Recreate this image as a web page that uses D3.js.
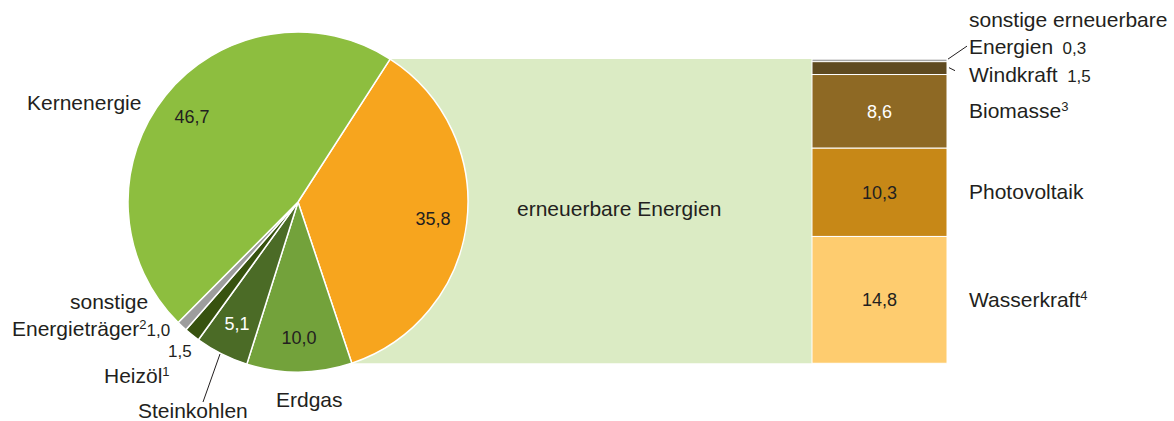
<!DOCTYPE html>
<html>
<head>
<meta charset="utf-8">
<script src="https://cdn.jsdelivr.net/npm/d3@7"></script>
<style>
  body { margin: 0; background: #fff; }
  text { font-family: "Liberation Sans", Arial, sans-serif; fill: #231f20; }
</style>
</head>
<body>
<div id="chart"></div>
<script>
// Anteile am Energiemix (in %)
const pieLabels = ["erneuerbare Energien", "Erdgas", "Steinkohlen", "Heizöl", "sonstige Energieträger", "Kernenergie"]
const pieValues = [35.8, 10.0, 5.1, 1.5, 1.0, 46.7]
const pieColors = ["#f7a51e", "#73a23b", "#4b6b26", "#37520f", "#9d9d9d", "#8dbe3f"]
const pieValueText = ["35,8", "10,0", "5,1", "", "", "46,7"]

const renewLabels = ["sonstige erneuerbare Energien", "Windkraft", "Biomasse", "Photovoltaik", "Wasserkraft"]
const renewValues = [0.3, 1.5, 8.6, 10.3, 14.8]
const renewColors = ["#a5a5a5", "#5f4a20", "#8e6924", "#c78817", "#fecc6f"]
const renewValueText = ["0,3", "1,5", "8,6", "10,3", "14,8"]

const width = 1174, height = 421
const cx = 298, cy = 202, R = 170
const startAngle = 32.8 * Math.PI / 180

const svg = d3.create("svg")
    .attr("width", width)
    .attr("height", height)
    .attr("viewBox", [0, 0, width, height])

const pie = d3.pie().sort(null).startAngle(startAngle).endAngle(startAngle + 2 * Math.PI)
const arcs = pie(pieValues)
const arc = d3.arc().innerRadius(0).outerRadius(R)
const labelArc = d3.arc().innerRadius(136).outerRadius(136)

const pt = (a, r) => [cx + r * Math.sin(a), cy - r * Math.cos(a)]

// renewables slice, expanded to the bar
const ren = arcs[0]
const p0 = pt(ren.startAngle, R), p1 = pt(ren.endAngle, R)
const barX0 = 812, barX1 = 947

svg.append("polygon")
    .attr("points", [p0, [barX0, p0[1]], [barX0, p1[1]], p1].map(p => p.join(",")).join(" "))
    .attr("fill", "#dbebc4")

const g = svg.append("g").attr("transform", `translate(${cx},${cy})`)
g.selectAll("path")
  .data(arcs)
  .join("path")
    .attr("d", arc)
    .attr("fill", (d, i) => pieColors[i])
    .attr("stroke", "white")
    .attr("stroke-width", 1.5)
    .attr("stroke-linejoin", "round")

g.selectAll("text.val")
  .data(arcs)
  .join("text")
    .attr("class", "val")
    .attr("transform", d => `translate(${labelArc.centroid(d)})`)
    .attr("text-anchor", "middle")
    .attr("dy", "0.36em")
    .attr("font-size", 18)
    .style("fill", (d, i) => i === 2 ? "#fff" : "#231f20")
    .text((d, i) => pieValueText[i])

svg.append("text")
    .attr("x", 517).attr("y", 216)
    .attr("font-size", 21)
    .text(pieLabels[0])

// stacked bar of renewables
const y = d3.scaleLinear()
    .domain([0, d3.sum(renewValues)])
    .range([p0[1], p1[1]])
const stack = d3.cumsum(renewValues)
const segs = renewValues.map((v, i) => ({ y0: stack[i] - v, y1: stack[i], i }))

svg.append("g")
  .selectAll("rect")
  .data(segs)
  .join("rect")
    .attr("x", barX0)
    .attr("width", barX1 - barX0)
    .attr("y", d => y(d.y0))
    .attr("height", d => y(d.y1) - y(d.y0))
    .attr("fill", d => renewColors[d.i])
    .attr("stroke", "white")
    .attr("stroke-width", 1)

svg.append("g")
  .selectAll("text")
  .data(segs.slice(2))
  .join("text")
    .attr("x", (barX0 + barX1) / 2)
    .attr("y", d => y((d.y0 + d.y1) / 2))
    .attr("dy", "0.36em")
    .attr("text-anchor", "middle")
    .attr("font-size", 18)
    .style("fill", d => d.i === 2 ? "#fff" : "#231f20")
    .text(d => renewValueText[d.i])

// right-hand labels
const lx = 969
function label(x, yy, parts) {
  const t = svg.append("text").attr("x", x).attr("y", yy).attr("font-size", 21)
  parts.forEach(p => {
    const s = t.append("tspan").text(p.t)
    if (p.sup) s.attr("font-size", 13).attr("baseline-shift", "super")
    if (p.num) s.attr("font-size", 17)
  })
  return t
}
label(lx, 27, [{ t: "sonstige erneuerbare" }])
label(lx, 54, [{ t: "Energien" }, { t: "\u00a0 " + renewValueText[0], num: true }])
label(lx, 82, [{ t: renewLabels[1] }, { t: "\u00a0 " + renewValueText[1], num: true }])
;[2, 3, 4].forEach(i => {
  const sup = { 2: "3", 4: "4" }[i]
  const parts = [{ t: renewLabels[i] }]
  if (sup) parts.push({ t: sup, sup: true })
  label(lx, y((segs[i].y0 + segs[i].y1) / 2) + 7, parts)
})

svg.append("path")
    .attr("d", `M${barX1 + 1},${y(0)} L${lx - 2},${y(0) - 13}`)
    .attr("stroke", "#231f20").attr("fill", "none")
svg.append("path")
    .attr("d", `M${barX1 + 2},${y(1.0)} L${barX1 + 8},${y(1.0) + 3}`)
    .attr("stroke", "#231f20").attr("fill", "none")

// left-hand labels
label(27, 110, [{ t: pieLabels[5] }])
label(70, 309, [{ t: "sonstige" }])
label(12, 336, [{ t: "Energieträger" }, { t: "2", sup: true }, { t: pieValueText[4] || "1,0", num: true }])
label(168, 357, [{ t: "1,5", num: true }]).attr("font-size", 17)
label(104, 383, [{ t: pieLabels[3] }, { t: "1", sup: true }])
label(138, 418, [{ t: pieLabels[2] }])
label(276, 407, [{ t: pieLabels[1] }])

svg.append("path")
    .attr("d", "M220,354 L203,402")
    .attr("stroke", "#231f20").attr("fill", "none")

d3.select("#chart").node().appendChild(svg.node())
</script>
</body>
</html>
